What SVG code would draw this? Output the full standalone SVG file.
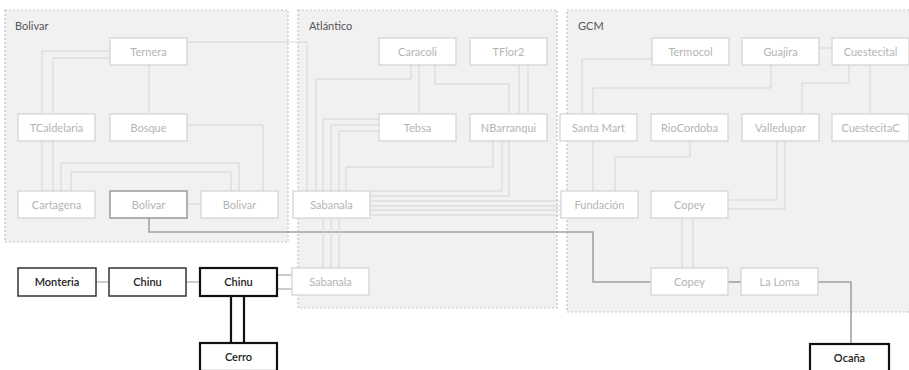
<svg xmlns="http://www.w3.org/2000/svg" width="909" height="370" viewBox="0 0 909 370">
<style>
.grp{fill:#f1f1f1;stroke:#c4c4c4;stroke-width:1.2;stroke-dasharray:2 2}
.glabel{font-family:Lato,"Open Sans",sans-serif;font-size:11px;fill:#555}
.n rect{fill:#fff;stroke:#d2d2d2;stroke-width:1.2}
.n text{font-family:Lato,"Open Sans",sans-serif;font-size:11px;fill:#b4b4b4;text-anchor:middle}
.n.mid rect{stroke:#9a9a9a;stroke-width:1.5}
.n.dk rect{stroke:#333;stroke-width:1.5}
.n.dk text{fill:#222;font-weight:600}
.n.dk2 rect{stroke:#111;stroke-width:2.2}
.n.dk2 text{fill:#222;font-weight:600}
.c path{fill:none}
.l{stroke:#d5d5d5;stroke-width:1}
.m{stroke:#a3a3a3;stroke-width:1.6}
.d{stroke:#999;stroke-width:1.2}
.k{stroke:#111;stroke-width:2.2}
</style>
<g id="groups">
<g id="grp-bolivar"><rect class="grp" x="5" y="10" width="283" height="232"/><text class="glabel" x="15" y="30">Bolivar</text></g>
<g id="grp-atlantico"><rect class="grp" x="298" y="10" width="259" height="298"/><text class="glabel" x="309" y="30">Atlántico</text></g>
<g id="grp-gcm"><rect class="grp" x="567" y="10" width="352" height="302"/><text class="glabel" x="578" y="30">GCM</text></g>
</g>
<g id="connectors" class="c">
<path class="l" d="M110 51H42V114M110 58H53V114"/>
<path class="l" d="M42 141V191M53 141V191"/>
<path class="l" d="M149 65V114"/>
<path class="l" d="M187 42H307V191"/>
<path class="l" d="M187 125H263V191"/>
<path class="l" d="M61 191V163H239V191M71 191V172H231V191"/>
<path class="l" d="M187 204H201"/>
<path class="m" d="M149 218V232H593V282H651"/>
<path class="l" d="M411 65V79H316V191"/>
<path class="l" d="M419 65V114"/>
<path class="l" d="M435 65V84H509V114"/>
<path class="l" d="M519 65V114M528 65V114"/>
<path class="l" d="M379 119H323V268M379 125H331V268M379 131H339V268"/>
<path class="l" d="M493 141V167H346V191"/>
<path class="l" d="M502 141V191H370M509 141V196H370"/>
<path class="l" d="M370 201H561M370 206H561M370 210H561M370 215H561"/>
<path class="l" d="M652 59H582V114"/>
<path class="l" d="M771 65V88H593V114"/>
<path class="l" d="M819 48H832"/>
<path class="l" d="M849 65V83H802V114"/>
<path class="l" d="M870 65V114"/>
<path class="l" d="M593 141V191"/>
<path class="l" d="M690 141V157H615V191"/>
<path class="l" d="M777 141V200H728M785 141V209H728"/>
<path class="l" d="M682 218V268M693 218V268"/>
<path class="m" d="M728 282H741"/>
<path class="m" d="M818 282H851V344"/>
<path class="d" d="M96 282H109M186 282H200"/>
<path class="k" d="M231 296V343M244 296V343"/>
<path class="d" d="M277 275H292M277 289H292"/>
</g>
<g id="n-ternera" class="n"><rect x="110" y="38" width="77" height="27"/><text x="148.5" y="55.5">Ternera</text></g>
<g id="n-tcaldelaria" class="n"><rect x="18" y="114" width="77" height="27"/><text x="56.5" y="131.5">TCaldelaria</text></g>
<g id="n-bosque" class="n"><rect x="110" y="114" width="77" height="27"/><text x="148.5" y="131.5">Bosque</text></g>
<g id="n-cartagena" class="n"><rect x="18" y="191" width="77" height="27"/><text x="56.5" y="208.5">Cartagena</text></g>
<g id="n-bolivar1" class="n mid"><rect x="110" y="191" width="77" height="27"/><text x="148.5" y="208.5">Bolivar</text></g>
<g id="n-bolivar2" class="n"><rect x="201" y="191" width="77" height="27"/><text x="239.5" y="208.5">Bolivar</text></g>
<g id="n-caracoli" class="n"><rect x="379" y="38" width="77" height="27"/><text x="417.5" y="55.5">Caracoli</text></g>
<g id="n-tflor2" class="n"><rect x="470" y="38" width="77" height="27"/><text x="508.5" y="55.5">TFlor2</text></g>
<g id="n-tebsa" class="n"><rect x="379" y="114" width="77" height="27"/><text x="417.5" y="131.5">Tebsa</text></g>
<g id="n-nbarranqui" class="n"><rect x="470" y="114" width="77" height="27"/><text x="508.5" y="131.5">NBarranqui</text></g>
<g id="n-sabanala1" class="n"><rect x="293" y="191" width="77" height="27"/><text x="331.5" y="208.5">Sabanala</text></g>
<g id="n-sabanala2" class="n"><rect x="292" y="268" width="77" height="27"/><text x="330.5" y="285.5">Sabanala</text></g>
<g id="n-termocol" class="n"><rect x="652" y="38" width="77" height="27"/><text x="690.5" y="55.5">Termocol</text></g>
<g id="n-guajira" class="n"><rect x="742" y="38" width="77" height="27"/><text x="780.5" y="55.5">Guajira</text></g>
<g id="n-cuestecital" class="n"><rect x="832" y="38" width="77" height="27"/><text x="870.5" y="55.5">Cuestecital</text></g>
<g id="n-santamart" class="n"><rect x="560" y="114" width="77" height="27"/><text x="598.5" y="131.5">Santa Mart</text></g>
<g id="n-riocordoba" class="n"><rect x="651" y="114" width="77" height="27"/><text x="689.5" y="131.5">RioCordoba</text></g>
<g id="n-valledupar" class="n"><rect x="742" y="114" width="77" height="27"/><text x="780.5" y="131.5">Valledupar</text></g>
<g id="n-cuestecitac" class="n"><rect x="832" y="114" width="77" height="27"/><text x="870.5" y="131.5">CuestecitaC</text></g>
<g id="n-fundacion" class="n"><rect x="561" y="191" width="77" height="27"/><text x="599.5" y="208.5">Fundación</text></g>
<g id="n-copey1" class="n"><rect x="651" y="191" width="77" height="27"/><text x="689.5" y="208.5">Copey</text></g>
<g id="n-copey2" class="n"><rect x="651" y="268" width="77" height="27"/><text x="689.5" y="285.5">Copey</text></g>
<g id="n-laloma" class="n"><rect x="741" y="268" width="77" height="27"/><text x="779.5" y="285.5">La Loma</text></g>
<g id="n-monteria" class="n dk"><rect x="18" y="268" width="78" height="28"/><text x="57" y="286">Monteria</text></g>
<g id="n-chinu1" class="n dk"><rect x="109" y="268" width="77" height="28"/><text x="147.5" y="286">Chinu</text></g>
<g id="n-chinu2" class="n dk2"><rect x="200" y="268" width="77" height="28"/><text x="238.5" y="286">Chinu</text></g>
<g id="n-cerro" class="n dk2"><rect x="200" y="343" width="77" height="28"/><text x="238.5" y="360.5">Cerro</text></g>
<g id="n-ocana" class="n dk2"><rect x="810" y="344" width="79" height="28"/><text x="849.5" y="361.5">Ocaña</text></g>
</svg>
